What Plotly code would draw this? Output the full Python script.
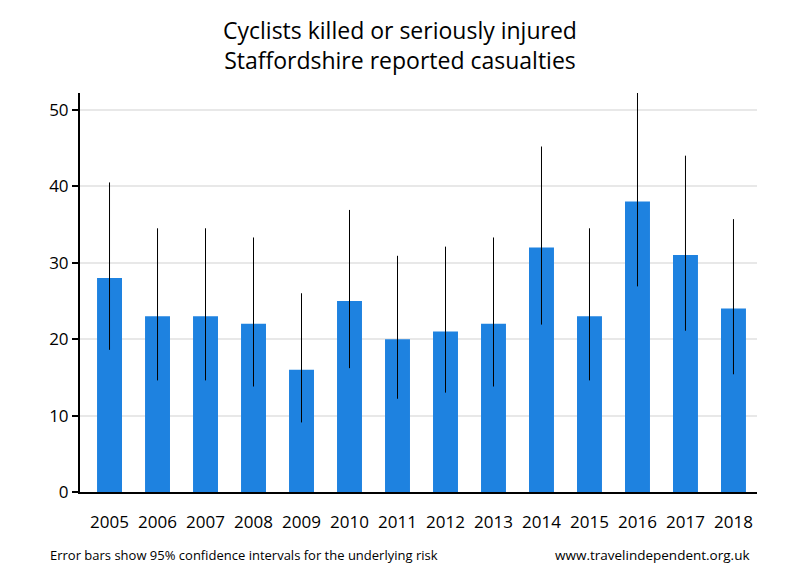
import plotly.graph_objects as go

years = ["2005", "2006", "2007", "2008", "2009", "2010", "2011", "2012", "2013",
         "2014", "2015", "2016", "2017", "2018"]
casualties = [28, 23, 23, 22, 16, 25, 20, 21, 22, 32, 23, 38, 31, 24]
ci_upper = [40.5, 34.5, 34.5, 33.3, 26.0, 36.9, 30.9, 32.1, 33.3, 45.2, 34.5, 52.2, 44.0, 35.7]
ci_lower = [18.6, 14.6, 14.6, 13.8, 9.1, 16.2, 12.2, 13.0, 13.8, 21.9, 14.6, 26.9, 21.1, 15.4]

err_plus = [u - v for u, v in zip(ci_upper, casualties)]
err_minus = [v - l for v, l in zip(casualties, ci_lower)]

font = "Open Sans"

fig = go.Figure(go.Bar(
    x=list(range(len(years))),
    y=casualties,
    width=0.52,
    marker=dict(color="#1E82E0", line=dict(width=0)),
    error_y=dict(type="data", symmetric=False, array=err_plus, arrayminus=err_minus,
                 color="black", thickness=1, width=0),
))

fig.update_layout(
    width=792, height=572,
    margin=dict(l=72, r=43, t=85, b=88),
    paper_bgcolor="white", plot_bgcolor="white",
    showlegend=False,
    title=dict(text="Cyclists killed or seriously injured<br>Staffordshire reported casualties",
               x=0.4949, xanchor="center", xref="container",
               y=0.946, yanchor="middle", yref="container",
               font=dict(family=font, size=23, color="black")),
    xaxis=dict(
        tickmode="array", tickvals=list(range(len(years))), ticktext=years,
        range=[-0.615, 13.49], showgrid=False, zeroline=False,
        showline=True, linecolor="black", linewidth=2, ticks="",
        tickfont=dict(family=font, size=17, color="black"), ticklabelstandoff=14,
    ),
    yaxis=dict(
        range=[0, 52.2], tickvals=[0, 10, 20, 30, 40, 50],
        showgrid=True, gridcolor="#E8E8E8", gridwidth=1.5, zeroline=False,
        showline=True, linecolor="black", linewidth=2,
        ticks="outside", ticklen=6, tickwidth=2, tickcolor="black",
        tickfont=dict(family=font, size=17, color="black"),
    ),
    annotations=[
        dict(text="Error bars show 95% confidence intervals for the underlying risk",
             xref="paper", yref="paper", x=-0.0473, y=-0.158, xanchor="left", yanchor="middle",
             showarrow=False, font=dict(family=font, size=13, color="black")),
        dict(text="www.travelindependent.org.uk",
             xref="paper", yref="paper", x=0.9926, y=-0.158, xanchor="right", yanchor="middle",
             showarrow=False, font=dict(family=font, size=13.5, color="black")),
    ],
)

fig.write_html("out.html")
